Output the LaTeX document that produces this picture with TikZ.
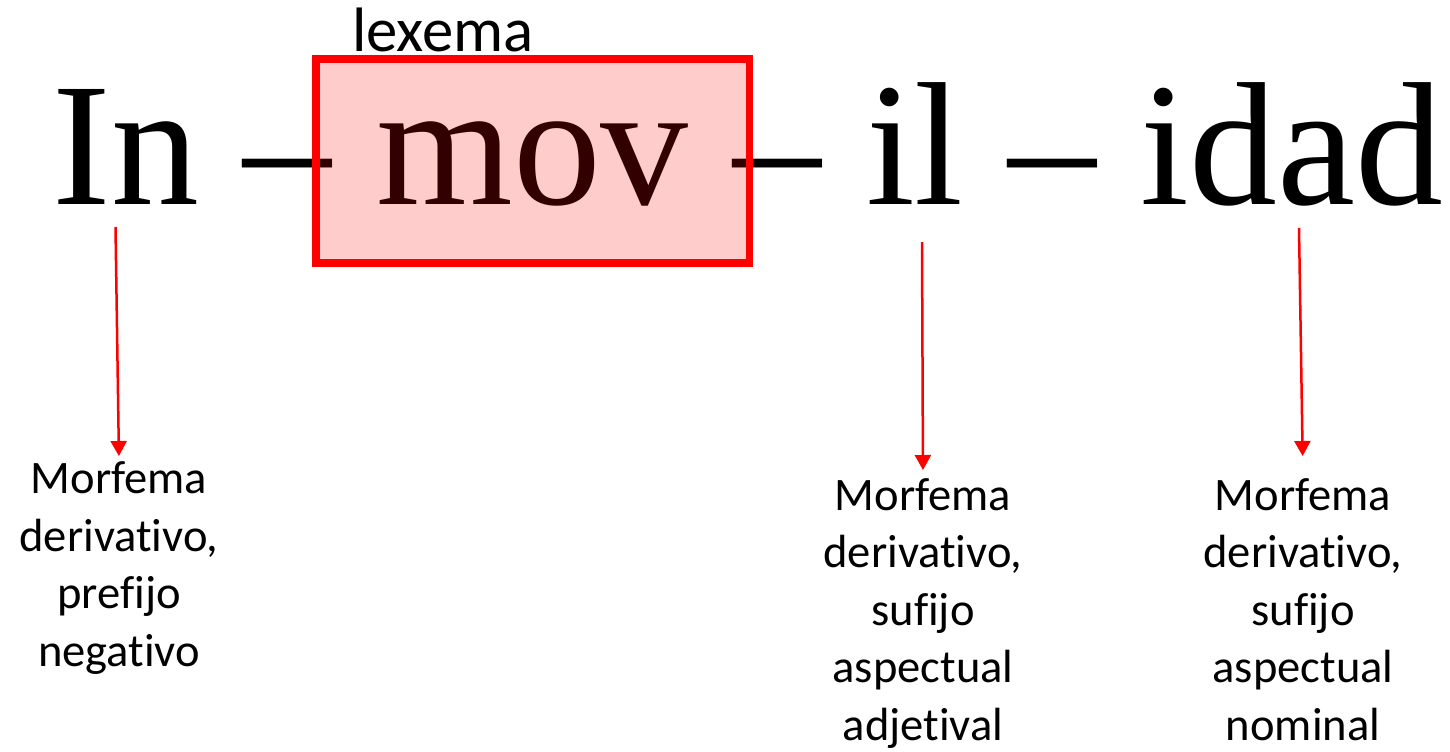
\documentclass[tikz,border=0pt]{standalone}
\usepackage{fontspec}
\setmainfont{Liberation Serif}
\newfontfamily\calibri[Ligatures=NoCommon]{Carlito}
\usepackage{tikz}
\usetikzlibrary{arrows.meta, positioning}
\definecolor{lexred}{RGB}{255, 0, 0}

\begin{document}
\begin{tikzpicture}[
    x=0.02cm, y=-0.02cm,
    node distance=0.88cm,
    morph/.style={inner sep=0pt, font=\fontsize{100}{110}\selectfont},
    lexbox/.style={draw=lexred, line width=0.154cm, fill=lexred,
                   fill opacity=0.2, inner sep=0pt,
                   minimum width=8.68cm, minimum height=4.08cm},
    arr/.style={-{Triangle[length=0.3cm, width=0.32cm]}, line width=0.05cm, lexred},
    lab/.style={inner sep=0pt, align=center, anchor=north,
                font=\calibri\fontsize{26.5}{32.7}\selectfont},
  ]
    \useasboundingbox (0,0) rectangle (1450,751);

    % the word, split in morphemes
    \node[morph, anchor=base west] (in) at (52.5,204) {In};
    \node[morph, base right=of in] (d1) {–};
    \node[morph, base right=of d1] (mov) {mov};
    \node[morph, base right=of mov] (d2) {–};
    \node[morph, base right=of d2] (il) {il};
    \node[morph, base right=of il] (d3) {–};
    \node[morph, base right=of d3] (idad) {idad};

    % lexeme box
    \node[lexbox] (lex) at ([yshift=0.86cm]mov.base) {};
    \node[anchor=base, inner sep=0pt, font=\calibri\fontsize{35.7}{40}\selectfont]
      (lexlab) at (443,51.5) {lexema};

    % labels
    \node[lab] (lab1) at (119,461.5) {Morfema\\derivativo,\\prefijo\\negativo};
    \node[lab] (lab2) at (923,478) {Morfema\\derivativo,\\sufijo\\aspectual\\adjetival};
    \node[lab] (lab3) at (1303,478) {Morfema\\derivativo,\\sufijo\\aspectual\\nominal};

    \coordinate (t1) at (115.5,227);
    \coordinate (t2) at (922,242);
    \coordinate (t3) at (1299,228);

    \draw[arr, shorten >=0.11cm] (t1) -- (lab1.north);
    \draw[arr, shorten >=0.16cm] (t2) -- (lab2.north);
    \draw[arr, shorten >=0.44cm] (t3) -- (lab3.north);
  \end{tikzpicture}
\end{document}
